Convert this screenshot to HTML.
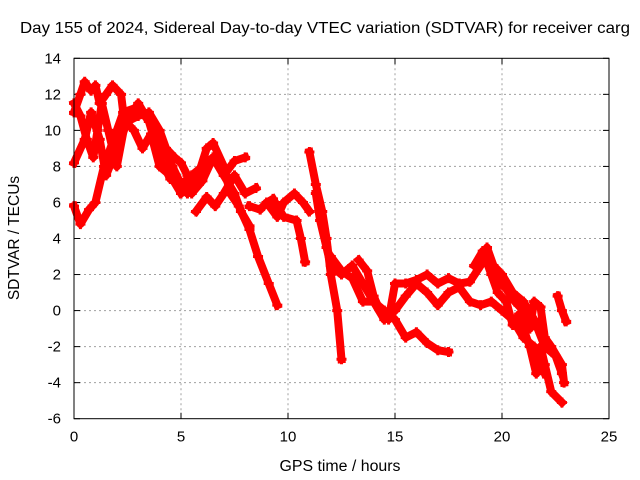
<!DOCTYPE html>
<html><head><meta charset="utf-8"><style>
body{margin:0;background:#fff}
svg{display:block;font-family:"Liberation Sans",sans-serif}
</style></head><body>
<svg id="chart" width="640" height="480">
<text x="325" y="33" font-size="16" text-anchor="middle" textLength="610" lengthAdjust="spacingAndGlyphs">Day 155 of 2024, Sidereal Day-to-day VTEC variation (SDTVAR) for receiver carg</text>
<g id="grid"></g>
<g id="ticks"></g>
<g id="series"></g>
<rect x="74" y="58.3" width="535" height="360.4" fill="none" stroke="#000" stroke-width="1"/>
<text x="340" y="471" font-size="15.5" text-anchor="middle" textLength="121" lengthAdjust="spacingAndGlyphs">GPS time / hours</text>
<text x="19" y="238" font-size="15.5" text-anchor="middle" transform="rotate(-90 19 238)">SDTVAR / TECUs</text>
</svg>
<script>
const xTicks=[0,5,10,15,20,25];
const yTicks=[-6,-4,-2,0,2,4,6,8,10,12,14];
const trackA=[[0,5.8],[0.3,4.8],[0.7,5.6],[1,6],[1.4,8],[2,10],[2.3,11],[3,11.3],[3.5,10.5],[4,9.5],[4.6,8],[5,7],[5.3,6.5],[5.8,7.5],[6.2,9],[6.5,9.3],[7,8],[7.3,6.5],[7.7,5.8],[8.2,4.5],[8.6,3],[9.1,1.5],[9.5,0.3]];
const trackB=[[0,8.2],[0.5,9.5],[0.8,11],[1.2,9.5],[1.5,7.5],[2,9],[2.5,10.5],[3,11.5],[3.5,10.5],[4,8.5],[4.5,7.3],[5,7],[5.5,7.5],[6,8],[6.5,8.5],[7,7.5],[7.5,6.5],[7.8,5.5],[8.2,4.7]];
const trackC=[[0,11],[0.3,12],[0.5,12.7],[0.8,12.2],[1,12.5],[1.2,11.5],[1.5,12],[1.8,12.5],[2.2,12],[2.3,11],[2.5,10.5],[3,10.8],[3.5,11],[4,10],[4.3,9],[4.7,8.5],[5,8.2],[5.3,7.5],[5.5,6.5],[6,7.2],[6.5,8.5],[7,7.5],[7.5,8.3],[8,8.5]];
const trackD=[[0,11.5],[0.3,10.8],[0.6,9.5],[0.9,8.5],[1.1,10],[1.3,11.5],[1.6,10],[2,8],[2.4,10.5],[2.8,10],[3.2,9],[3.6,9.8],[4,8],[4.5,7.5],[5,6.5]];
const trackE=[[5.7,5.5],[6.2,6.3],[6.6,5.8],[7,6.5],[7.5,7.5],[8,6.5],[8.5,6.8]];
const trackF=[[8.2,5.8],[8.7,5.6],[9,6],[9.5,5.2],[9.8,6],[10.3,6.5],[10.7,6],[11,5.5]];
const trackG=[[9.3,6.2],[9.8,5.2],[10.4,5],[10.6,4],[10.8,2.7]];
const trackH=[[11,8.8],[11.3,7],[11.6,5.5],[11.8,4],[12,2],[12.3,0],[12.5,-2.7]];
const trackI=[[11.3,6.5],[11.5,5],[11.8,3.5],[12,2.5],[12.5,2],[13,2.5],[13.5,1.5],[14,0.5],[14.5,0],[15,-0.5],[15.5,-1.5],[16,-1.2],[16.5,-1.8],[17,-2.2],[17.5,-2.3]];
const trackJ=[[13.3,2.8],[13.7,2.2],[14,0.8],[14.3,0],[14.7,-0.5],[15,1.5],[15.5,1.5],[16,1.7],[16.5,2],[17,1.5],[17.5,1.8],[18,1.5],[18.5,1.6],[19,2.5],[19.3,3.5],[19.6,2.5],[20,2],[20.5,1],[21,0.5],[21.5,-0.5],[22,-2],[22.5,-2.5],[22.8,-3.5]];
const trackK=[[12,3],[12.5,2.2],[13,1.8],[13.5,0.5],[14,0.5],[14.5,-0.5],[15,0],[15.5,0.8],[16,1.5],[16.5,1],[17,0.3],[17.5,1],[18,1.3],[18.5,0.5],[19,0.3],[19.5,0.5],[20,0],[20.5,-0.5],[21,-1.5],[21.5,-2],[22,-3.5]];
const trackL=[[18.7,2.5],[19.1,3.3],[19.5,2],[19.8,1],[20.2,0.5],[20.5,-0.8],[20.8,-0.2],[21,-1],[21.3,-2],[21.6,-3.5],[21.8,-2],[22,-3],[22.3,-4.5],[22.8,-5.1]];
const trackM=[[19.2,2.8],[19.7,1.8],[20.2,1.2],[20.6,0.5],[21,0],[21.3,-1],[21.5,0.5],[21.8,0.2],[22,-1.5],[22.3,-2],[22.8,-3],[22.9,-4]];
const trackN=[[22.6,0.8],[22.8,0],[23,-0.6]];
const tracks=[trackA,trackB,trackC,trackD,trackE,trackF,trackG,trackH,trackI,trackJ,trackK,trackL,trackM,trackN];
const X0=74,X1=609,Y0=418.7,Y1=58.3;
function sx(h){return X0+(h-0)/25*(X1-X0);}
function sy(v){return Y0-(v+6)/20*(Y0-Y1);}
const NS='http://www.w3.org/2000/svg';
function mk(t,a,p){const e=document.createElementNS(NS,t);for(const k in a)e.setAttribute(k,a[k]);p.appendChild(e);return e;}
const grid=document.getElementById('grid'),ticks=document.getElementById('ticks'),ser=document.getElementById('series');
xTicks.forEach(t=>{const x=sx(t);
 if(t>0&&t<25){const g=mk('line',{x1:x,x2:x,y1:Y1,y2:Y0,stroke:'#a0a0a0','stroke-dasharray':'2,3'},grid);}
 mk('line',{x1:x,x2:x,y1:Y0,y2:Y0-6,stroke:'#000'},ticks);mk('line',{x1:x,x2:x,y1:Y1,y2:Y1+6,stroke:'#000'},ticks);
 const l=mk('text',{x:x,y:Y0+23,'font-size':15,'text-anchor':'middle'},ticks);l.textContent=t;
 });
yTicks.forEach(t=>{const y=sy(t);
 if(t>-6&&t<14){const g=mk('line',{x1:X0,x2:X1,y1:y,y2:y,stroke:'#a0a0a0','stroke-dasharray':'2,3'},grid);}
 mk('line',{x1:X0,x2:X0+6,y1:y,y2:y,stroke:'#000'},ticks);mk('line',{x1:X1,x2:X1-6,y1:y,y2:y,stroke:'#000'},ticks);
 const l=mk('text',{x:X0-13,y:y+5,'font-size':15,'text-anchor':'end'},ticks);l.textContent=t;
 });
tracks.forEach((tr,i)=>{
 const pl=mk('polyline',{points:tr.map(p=>sx(p[0])+','+sy(p[1])).join(' '),fill:'none',stroke:'#f00','stroke-width':8,'stroke-linejoin':'round','stroke-linecap':'square'},ser);
 
 
 tr.forEach(p=>{const x=sx(p[0]),y=sy(p[1]);
  const m=mk('path',{d:`M${x-5},${y}H${x+5}M${x},${y-5}V${y+5}`,stroke:'#f00','stroke-width':3},ser);
  
  });
});
</script>
</body></html>
